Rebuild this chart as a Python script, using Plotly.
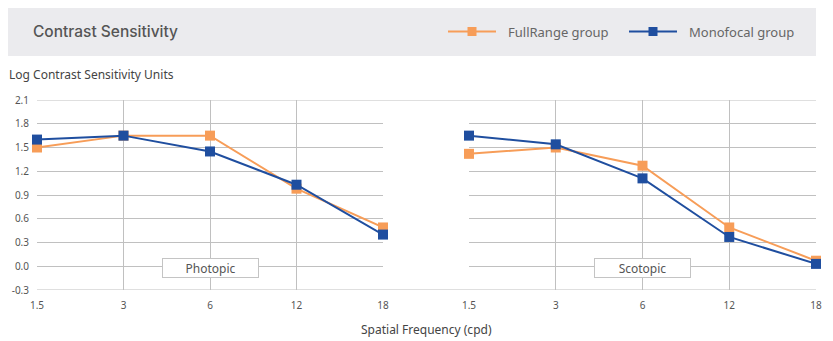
import plotly.graph_objects as go

frequencies = ["1.5", "3", "6", "12", "18"]
photopic_fullrange = [1.50, 1.65, 1.65, 0.98, 0.49]
photopic_monofocal = [1.60, 1.65, 1.45, 1.03, 0.40]
scotopic_fullrange = [1.42, 1.50, 1.27, 0.49, 0.07]
scotopic_monofocal = [1.65, 1.54, 1.11, 0.37, 0.03]
y_ticks = [-0.3, 0.0, 0.3, 0.6, 0.9, 1.2, 1.5, 1.8, 2.1]
y_ticktext = ["-0.3", "0.0", "0.3", "0.6", "0.9", "1.2", "1.5", "1.8", "2.1"]
series_names = ["FullRange group", "Monofocal group"]

ORANGE = "#f79d58"
BLUE = "#1f4e9f"
GRID = "#c0c0c0"
FONT = "Noto Sans"

OFF = 8  # page body margin
W, H = 825, 333
ML, MR, MT, MB = 29, 17, 92, 51
PW = W - ML - MR
PH = H - MT - MB

def px(xs):
    return (xs - OFF - ML) / PW

def py(ys):
    return (H - MB - (ys - OFF)) / PH

fig = go.Figure()

def add(x, y, name, color, xa, ya):
    fig.add_trace(go.Scatter(
        x=x, y=y, name=name, mode="lines+markers",
        line=dict(color=color, width=2),
        marker=dict(symbol="square", size=10, color=color),
        xaxis=xa, yaxis=ya, showlegend=False, cliponaxis=False,
    ))

add(frequencies, photopic_fullrange, series_names[0], ORANGE, "x", "y")
add(frequencies, photopic_monofocal, series_names[1], BLUE, "x", "y")
add(frequencies, scotopic_fullrange, series_names[0], ORANGE, "x2", "y2")
add(frequencies, scotopic_monofocal, series_names[1], BLUE, "x2", "y2")

left_dom = [0, px(383)]
right_dom = [px(469), 1]

xcommon = dict(type="category", range=[0, 4], showgrid=True, gridcolor=GRID,
               gridwidth=1.2, zeroline=False, showline=False, automargin=False,
               tickfont=dict(family=FONT, size=10, color="#555"),
               ticks="outside", ticklen=6, tickcolor="rgba(0,0,0,0)")
ycommon = dict(range=[-0.3, 2.1], tickvals=y_ticks, showgrid=True, gridcolor=GRID,
               gridwidth=1.2, zeroline=False, showline=False, automargin=False)

fig.update_layout(
    width=W, height=H,
    margin=dict(l=ML, r=MR, t=MT, b=MB),
    paper_bgcolor="white", plot_bgcolor="white",
    font=dict(family=FONT, color="#555"),
    xaxis=dict(domain=left_dom, anchor="y", **xcommon),
    xaxis2=dict(domain=right_dom, anchor="y2", **xcommon),
    yaxis=dict(anchor="x", ticktext=y_ticktext, tickmode="array",
               tickfont=dict(family=FONT, size=10, color="#555"),
               ticks="outside", ticklen=5, tickcolor="rgba(0,0,0,0)", **ycommon),
    yaxis2=dict(anchor="x2", matches="y", showticklabels=False, **ycommon),
    showlegend=False,
)

# title bar
fig.add_shape(type="rect", xref="paper", yref="paper", x0=px(8), x1=1, y0=py(56), y1=py(7),
              fillcolor="#ebebee", line=dict(width=0), layer="below")
# frame top/bottom lines across the gap
for yv in (2.1, -0.3):
    fig.add_shape(type="line", xref="paper", yref="y", x0=0, x1=1, y0=yv, y1=yv,
                  line=dict(color=GRID, width=1.2), layer="below")

# legend (drawn in the title bar)
LEG_Y = 31.5
for name, color, lx0, tx in ((series_names[0], ORANGE, 448, 506),
                             (series_names[1], BLUE, 629, 687)):
    fig.add_shape(type="line", xref="paper", yref="paper", x0=px(lx0), x1=px(lx0 + 48),
                  y0=py(LEG_Y), y1=py(LEG_Y), line=dict(color=color, width=2))
    fig.add_shape(type="rect", xref="paper", yref="paper", x0=px(lx0 + 19.5), x1=px(lx0 + 28.5),
                  y0=py(LEG_Y + 4.5), y1=py(LEG_Y - 4.5), fillcolor=color, line=dict(width=0))
    fig.add_annotation(text=name, xref="paper", yref="paper", x=px(tx), y=py(LEG_Y),
                       xanchor="left", yanchor="middle", showarrow=False,
                       font=dict(family=FONT, size=13, color="#666"))

fig.add_annotation(text="Contrast Sensitivity", xref="paper", yref="paper",
                   x=px(31), y=py(31.5), xanchor="left", yanchor="middle", showarrow=False,
                   font=dict(family="Inter", size=15.5, color="#555", weight=500))
fig.add_annotation(text="Log Contrast Sensitivity Units", xref="paper", yref="paper",
                   x=px(7), y=py(74), xanchor="left", yanchor="middle", showarrow=False,
                   font=dict(family=FONT, size=12, color="#444"))
fig.add_annotation(text="Spatial Frequency (cpd)", xref="paper", yref="paper",
                   x=px(426), y=py(329), xanchor="center", yanchor="middle", showarrow=False,
                   font=dict(family=FONT, size=12, color="#444"))
for xa, label in (("x", "Photopic"), ("x2", "Scotopic")):
    fig.add_annotation(text=label, xref=xa, yref="paper", x=2, y=py(268),
                       xanchor="center", yanchor="middle", showarrow=False,
                       width=93, height=16, bgcolor="white", bordercolor="#c4c4c4",
                       borderwidth=1, borderpad=1,
                       font=dict(family=FONT, size=12, color="#555"))

fig.write_html("out.html")
